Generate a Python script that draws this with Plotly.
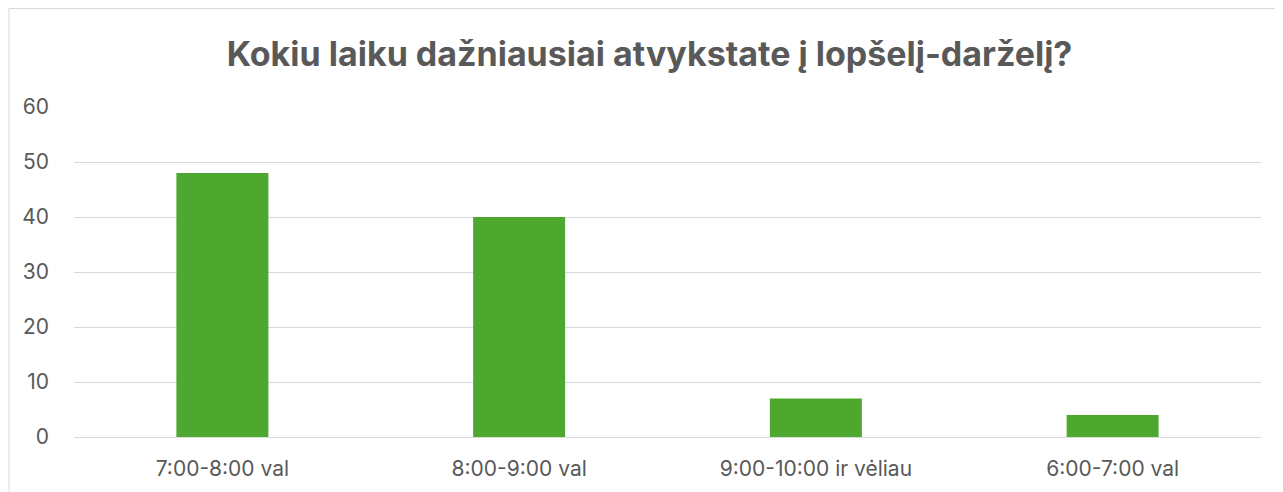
import plotly.graph_objects as go

# ------------------ DATA ------------------
categories = ["7:00-8:00 val", "8:00-9:00 val", "9:00-10:00 ir vėliau", "6:00-7:00 val"]
values = [48, 40, 7, 4]
y_ticks = [0, 10, 20, 30, 40, 50, 60]

title_text = "Kokiu laiku dažniausiai atvykstate į lopšelį-darželį?"
text_color = "#595959"
bar_color = "#4EA72E"

# ------------------ FIGURE ------------------
fig = go.Figure(
    go.Bar(
        x=categories,
        y=values,
        marker=dict(color=bar_color, line=dict(width=0)),
    )
)

# page body adds 8px, so plot area (figure px): left 65.5, right 1253.5, top 99, bottom 429
fig.update_layout(
    width=1283,
    height=492,
    margin=dict(l=65.5, r=29.5, t=99, b=63),
    paper_bgcolor="white",
    plot_bgcolor="white",
    bargap=0.69,
    showlegend=False,
    font=dict(family="Inter, Open Sans, sans-serif", color=text_color),
    title=dict(
        text="<b>" + title_text + "</b>",
        x=0.5,
        xref="container",
        xanchor="center",
        y=1 - 46 / 492,
        yref="container",
        yanchor="middle",
        font=dict(size=34, color=text_color, family="Inter, Open Sans, sans-serif"),
    ),
)

fig.update_yaxes(
    range=[0, 60],
    tickvals=y_ticks,
    showgrid=True,
    gridcolor="#D9D9D9",
    gridwidth=1,
    zeroline=False,
    showline=False,
    ticks="",
    ticklabelstandoff=24,
    tickfont=dict(size=21, color=text_color),
)
fig.update_xaxes(
    showline=True,
    linecolor="#D9D9D9",
    linewidth=1,
    ticks="",
    ticklabelstandoff=13,
    tickfont=dict(size=21, color=text_color),
)

# chart frame (top and left edges visible)
fig.add_shape(
    type="rect",
    xref="paper", yref="paper",
    x0=(0.5 - 65.5) / 1188, x1=1.05,
    y0=-0.3, y1=(429 - 0.5) / 330,
    line=dict(color="#D9D9D9", width=1),
    fillcolor="rgba(0,0,0,0)",
    layer="below",
)

fig.write_html("out.html")
